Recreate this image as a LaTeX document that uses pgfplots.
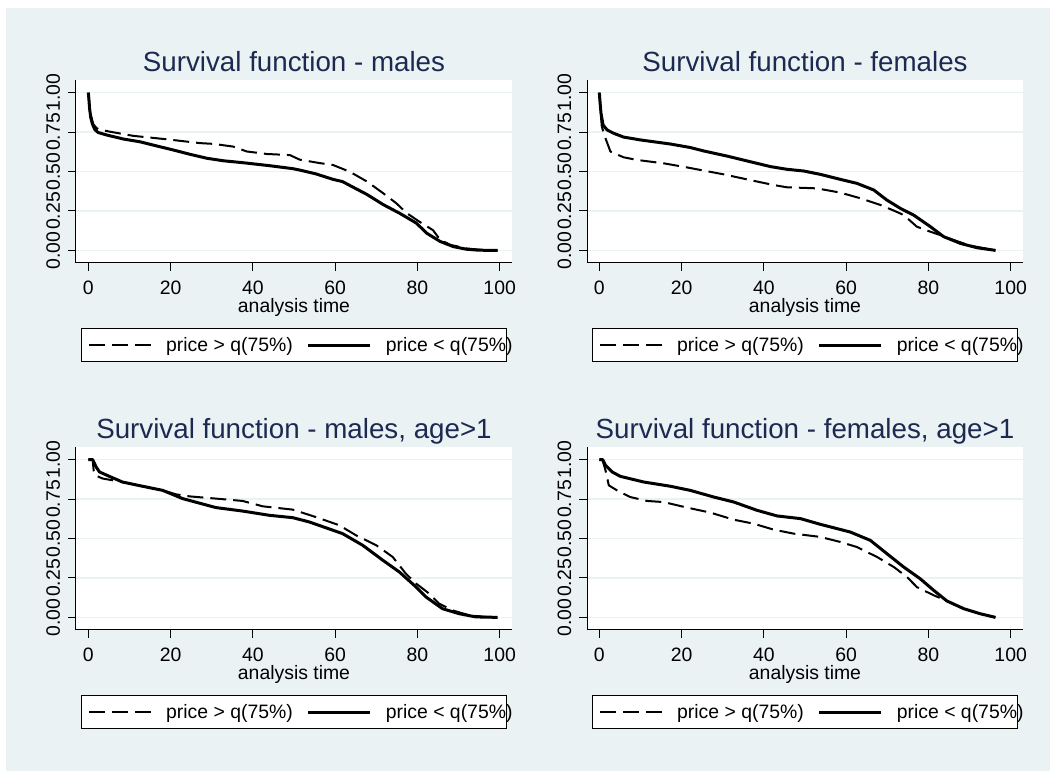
\documentclass[border=0pt]{standalone}
\usepackage{fontspec}
\setmainfont{Liberation Sans}
\usepackage{pgfplots}
\pgfplotsset{compat=1.18}
\newlength{\px}\setlength{\px}{0.75pt}
\definecolor{bgcol}{RGB}{234,242,243}
\definecolor{titlecol}{RGB}{28,42,82}

\pgfplotsset{
  km/.style={
    scale only axis, width=436\px, height=183\px,
    xmin=-3, xmax=103, ymin=-0.08, ymax=1.08,
    xtick={0,20,40,60,80,100}, ytick={0,0.25,0.5,0.75,1},
    axis lines*=left, axis line style={-, line width=1\px, black},
    tick align=outside, major tick length=8\px,
    tick style={line width=1\px, black},
    ymajorgrids, grid style={line width=1.5\px, bgcol},
    axis background/.style={fill=white},
    /pgf/number format/assume math mode=true,
    tick label style={font=\fontsize{14.55}{17}\selectfont},
    xticklabel style={anchor=base}, xticklabel shift=23.5\px,
    yticklabel style={rotate=90, anchor=base,
      /pgf/number format/.cd, fixed, fixed zerofill, precision=2},
    yticklabel shift=8\px,
    xlabel={analysis time},
    every axis x label/.style={at={(axis description cs:0.5,0)}, anchor=base,
      yshift=-50\px, font=\fontsize{14.55}{17}\selectfont},
    every axis title/.style={at={(axis description cs:0.5,1)}, anchor=base,
      yshift=8.3\px, font=\fontsize{20.8}{24}\selectfont, text=titlecol},
    legend columns=2,
    legend cell align=left,
    legend image code/.code={\draw[##1] (0\px,0\px) -- (62\px,0\px);},
    legend style={at={(axis description cs:0.5,0)}, anchor=north, yshift=-65\px,
      draw=black, line width=1\px, fill=white, inner xsep=7\px, inner ysep=8.5\px,
      column sep=14\px, nodes={inner sep=0pt},
      font=\fontsize{14.55}{17}\selectfont},
  },
  dsh/.style={black, line width=2\px, dash pattern=on 16\px off 7\px, line join=round, mark=none},
  sld/.style={black, line width=3\px, line join=round, mark=none},
}

\begin{document}
\begin{tikzpicture}
\fill[white] (0,0) rectangle (1050\px,771\px);
\fill[bgcol] (6\px,0) rectangle (1050\px,763\px);
\useasboundingbox (0,0) rectangle (1050\px,771\px);

% males
\begin{axis}[km, at={(76\px,508\px)}, anchor=south west, title={Survival function - males}]
\addplot[dsh] coordinates {(0,1) (0.3,0.91) (0.7,0.85) (1.2,0.8) (2,0.775) (2.8,0.765) (5.1,0.753)
 (10.9,0.726) (19.1,0.704) (27.1,0.680) (30.4,0.675) (35.2,0.658) (38.5,0.627) (43.4,0.611)
 (49,0.604) (51.4,0.575) (56.3,0.553) (59.5,0.541) (63.6,0.498) (67.7,0.437) (71.7,0.362)
 (74.9,0.298) (77.4,0.236) (80.6,0.180) (83.8,0.128) (85.5,0.068) (88,0.035) (92,0.012)
 (96,0.002) (99.5,0)};
\addlegendentry{price > q(75\%)}
\addplot[sld] coordinates {(0,1) (0.1,0.97) (0.3,0.9) (0.6,0.84) (1,0.8) (1.6,0.765) (2.4,0.747)
 (4.5,0.731) (8.5,0.706) (12.6,0.688) (16.6,0.662) (20.7,0.636) (24.7,0.609) (28.8,0.584)
 (32.8,0.568) (37.5,0.556) (44,0.537) (49.7,0.518) (51.4,0.509) (55.3,0.485) (59.5,0.450)
 (61.8,0.436) (64.4,0.400) (67.7,0.355) (71.7,0.290) (75.7,0.235) (79.8,0.172) (82.2,0.110)
 (85.5,0.057) (88.7,0.024) (92,0.007) (95,0.001) (99.5,0)};
\addlegendentry{price < q(75\makebox[11\px][l]{\%)}}
\end{axis}

% females
\begin{axis}[km, at={(587\px,508\px)}, anchor=south west, title={Survival function - females}]
\addplot[dsh] coordinates {(0,1) (0.3,0.88) (0.6,0.784) (1.5,0.71) (2.7,0.626) (5.9,0.590)
 (9.2,0.573) (15.6,0.552) (21.3,0.526) (23.7,0.514) (30.2,0.482) (35.9,0.450) (42.4,0.414)
 (45.6,0.400) (52.9,0.393) (58.6,0.366) (63.5,0.330) (68.3,0.288) (71.6,0.252) (74,0.224)
 (77.2,0.150) (80.5,0.118) (82.9,0.097) (86.1,0.066) (90.2,0.030) (96.3,0)};
\addlegendentry{price > q(75\%)}
\addplot[sld] coordinates {(0,1) (0.2,0.93) (0.4,0.87) (0.9,0.795) (1.9,0.763) (3.5,0.742)
 (5.9,0.718) (10,0.700) (17.3,0.674) (22.1,0.652) (25.4,0.630) (31,0.598) (35.9,0.567)
 (41.6,0.531) (45.6,0.514) (49.7,0.503) (53.7,0.482) (58.6,0.450) (62.6,0.425) (66.7,0.383)
 (69.9,0.319) (73.2,0.266) (76.4,0.224) (80.5,0.150) (83.7,0.087) (87.8,0.044) (91.8,0.017)
 (96.3,0)};
\addlegendentry{price < q(75\makebox[11\px][l]{\%)}}
\end{axis}

% males, age>1
\begin{axis}[km, at={(76\px,141\px)}, anchor=south west, title={Survival function - males, age>1}]
\addplot[dsh] coordinates {(0,1) (1.05,1) (1.3,0.93) (1.7,0.9) (3.5,0.88) (8.3,0.858) (13.2,0.831)
 (18.1,0.805) (21.3,0.780) (24.6,0.767) (31,0.753) (37.5,0.738) (42.4,0.704) (49.7,0.683)
 (55.3,0.636) (61,0.584) (65.1,0.520) (70,0.457) (74,0.383) (77.2,0.277) (79.7,0.214)
 (82.9,0.150) (85.3,0.087) (88.6,0.044) (92.6,0.013) (97.5,0.001) (99.5,0)};
\addlegendentry{price > q(75\%)}
\addplot[sld] coordinates {(0,1) (1.05,1) (1.9,0.953) (2.7,0.922) (5.1,0.894) (8.3,0.858)
 (13.2,0.831) (18.1,0.805) (22.9,0.753) (31,0.696) (37.5,0.674) (44,0.647) (49.7,0.632)
 (53.7,0.605) (61.8,0.531) (66.7,0.457) (71.6,0.362) (75.6,0.288) (79.7,0.192) (82.1,0.129)
 (86.1,0.055) (90.2,0.023) (94.2,0.003) (99.5,0)};
\addlegendentry{price < q(75\makebox[11\px][l]{\%)}}
\end{axis}

% females, age>1
\begin{axis}[km, at={(587\px,141\px)}, anchor=south west, title={Survival function - females, age>1}]
\addplot[dsh] coordinates {(0,1) (0.8,0.995) (1.5,0.932) (2.3,0.837) (4.3,0.805) (7.5,0.763)
 (11.6,0.738) (15.6,0.731) (21.3,0.696) (27,0.664) (32.7,0.619) (37.5,0.594) (42.4,0.556)
 (47.2,0.531) (53.7,0.510) (58.6,0.478) (62.6,0.446) (67.5,0.383) (71.6,0.319) (74.8,0.256)
 (77.2,0.192) (81.3,0.140) (84.5,0.104) (88.6,0.055) (92.6,0.023) (96.3,0)};
\addlegendentry{price > q(75\%)}
\addplot[sld] coordinates {(0,1) (0.8,1) (1.5,0.964) (3.1,0.922) (5.1,0.894) (10.8,0.858)
 (17.3,0.831) (22.1,0.805) (27.8,0.763) (32.7,0.731) (38.3,0.679) (43.2,0.643) (48.9,0.626)
 (53.7,0.590) (61,0.541) (65.9,0.488) (69.9,0.404) (74,0.319) (78,0.245) (81.3,0.171)
 (84.5,0.104) (88.6,0.055) (92.6,0.023) (96.3,0)};
\addlegendentry{price < q(75\makebox[11\px][l]{\%)}}
\end{axis}
\end{tikzpicture}
\end{document}
